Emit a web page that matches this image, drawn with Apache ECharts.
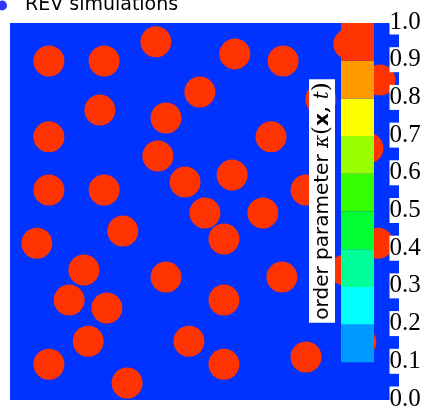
<!DOCTYPE html>
<html>
<head>
<meta charset="utf-8">
<script src="https://cdn.jsdelivr.net/npm/echarts@6/dist/echarts.min.js"></script>
<style>
  html, body { margin: 0; padding: 0; background: #fff; }
  #main { width: 425px; height: 411px; }
</style>
</head>
<body>
<div id="main"></div>
<script>
// inclusion centres in the unit box (x to the right, y upwards)
var circleX = [0.100, 0.242, 0.375, 0.488, 0.231, 0.401, 0.100, 0.380, 0.100, 0.242,
               0.450, 0.501, 0.578, 0.702, 0.671, 0.571, 0.761, 0.650, 0.799, 0.871,
               0.951, 0.920, 0.946, 0.861, 0.699, 0.761, 0.902, 0.069, 0.290, 0.190,
               0.401, 0.152, 0.249, 0.201, 0.460, 0.100, 0.301, 0.550, 0.550, 0.550];
var circleY = [0.899, 0.899, 0.950, 0.817, 0.769, 0.748, 0.698, 0.647, 0.557, 0.557,
               0.578, 0.496, 0.918, 0.899, 0.698, 0.597, 0.557, 0.496, 0.798, 0.944,
               0.849, 0.668, 0.416, 0.345, 0.326, 0.114, 0.154, 0.416, 0.448, 0.345,
               0.326, 0.265, 0.244, 0.156, 0.156, 0.095, 0.045, 0.427, 0.265, 0.095];

// colour bar levels (also the tick labels) and band colours
var levels = [0.0, 0.1, 0.2, 0.3, 0.4, 0.5, 0.6, 0.7, 0.8, 0.9, 1.0];
var bandColors = ['#0033ff', '#0099ff', '#00ffff', '#00ff99', '#00ff33',
                  '#33ff00', '#99ff00', '#ffff00', '#ff9900', '#ff3300'];

var myChart = echarts.init(document.getElementById('main'));

var circleData = [];
for (var i = 0; i < circleX.length; i++) {
  circleData.push([circleX[i], circleY[i]]);
}

var seriesList = [
  {
    name: 'inclusions',
    type: 'scatter',
    xAxisIndex: 0,
    yAxisIndex: 0,
    symbol: 'circle',
    symbolSize: 31,
    itemStyle: { color: '#ff3300', opacity: 1 },
    emphasis: { disabled: true },
    silent: true,
    data: circleData
  },
  {
    name: 'REV simulations',
    type: 'scatter',
    xAxisIndex: 0,
    yAxisIndex: 0,
    itemStyle: { color: '#0000ff' },
    data: []
  }
];

// one stacked bar per band of the colour bar
for (var j = 0; j < bandColors.length; j++) {
  seriesList.push({
    type: 'bar',
    xAxisIndex: 1,
    yAxisIndex: 1,
    stack: 'cbar',
    barWidth: '100%',
    z: 5,
    silent: true,
    itemStyle: { color: bandColors[j] },
    data: [levels[j + 1] - levels[j]]
  });
}

// colour bar tick labels, placed by the colour bar's value axis
var tickData = [];
for (var k = 0; k < levels.length; k++) {
  tickData.push([0, levels[k]]);
}
seriesList.push({
  type: 'custom',
  xAxisIndex: 1,
  yAxisIndex: 1,
  z: 20,
  clip: false,
  silent: true,
  data: tickData,
  renderItem: function (params, api) {
    var v = api.value(1);
    var p = api.coord([0, v]);
    return {
      type: 'text',
      x: p[0] + 32,
      y: p[1] - 1,
      style: {
        text: v.toFixed(1),
        fontFamily: 'Liberation Serif',
        fontSize: 25,
        fill: '#000',
        backgroundColor: '#fff',
        align: 'left',
        verticalAlign: 'middle'
      }
    };
  }
});

var option = {
  animation: false,
  legend: {
    data: ['REV simulations'],
    left: -3,
    top: -4,
    padding: 0,
    icon: 'circle',
    itemWidth: 10,
    itemHeight: 10,
    textStyle: {
      fontFamily: 'DejaVu Sans',
      fontSize: 19,
      color: '#000',
      padding: [0, 0, 0, 13]
    }
  },
  grid: [
    {
      left: 10, top: 23, width: 389, height: 377,
      show: true, backgroundColor: '#0033ff', borderWidth: 0
    },
    {
      left: 341, top: 23, width: 33, height: 377
    }
  ],
  xAxis: [
    { gridIndex: 0, type: 'value', min: 0, max: 1, show: false },
    { gridIndex: 1, type: 'category', data: [''], show: false }
  ],
  yAxis: [
    { gridIndex: 0, type: 'value', min: 0, max: 1, show: false },
    { gridIndex: 1, type: 'value', min: 0, max: 1, interval: 0.1, show: false }
  ],
  graphic: [
    {
      type: 'text',
      x: 322,
      y: 201,
      rotation: Math.PI / 2,
      z: 100,
      style: {
        text: '{n|order parameter }{k|κ}{p|(}{b|x}{p|,}{k| t}{p|)}',
        align: 'center',
        verticalAlign: 'middle',
        backgroundColor: '#fff',
        padding: [2, 3, 1, 3],
        fill: '#000',
        rich: {
          n: { fontFamily: 'DejaVu Sans', fontSize: 20, fill: '#000' },
          k: { fontFamily: 'DejaVu Serif', fontStyle: 'italic', fontSize: 20, fill: '#000' },
          p: { fontFamily: 'DejaVu Serif', fontSize: 23, fill: '#000' },
          b: { fontFamily: 'DejaVu Sans', fontWeight: 'bold', fontSize: 20, fill: '#000' }
        }
      }
    }
  ],
  series: seriesList
};

myChart.setOption(option);
</script>
</body>
</html>
